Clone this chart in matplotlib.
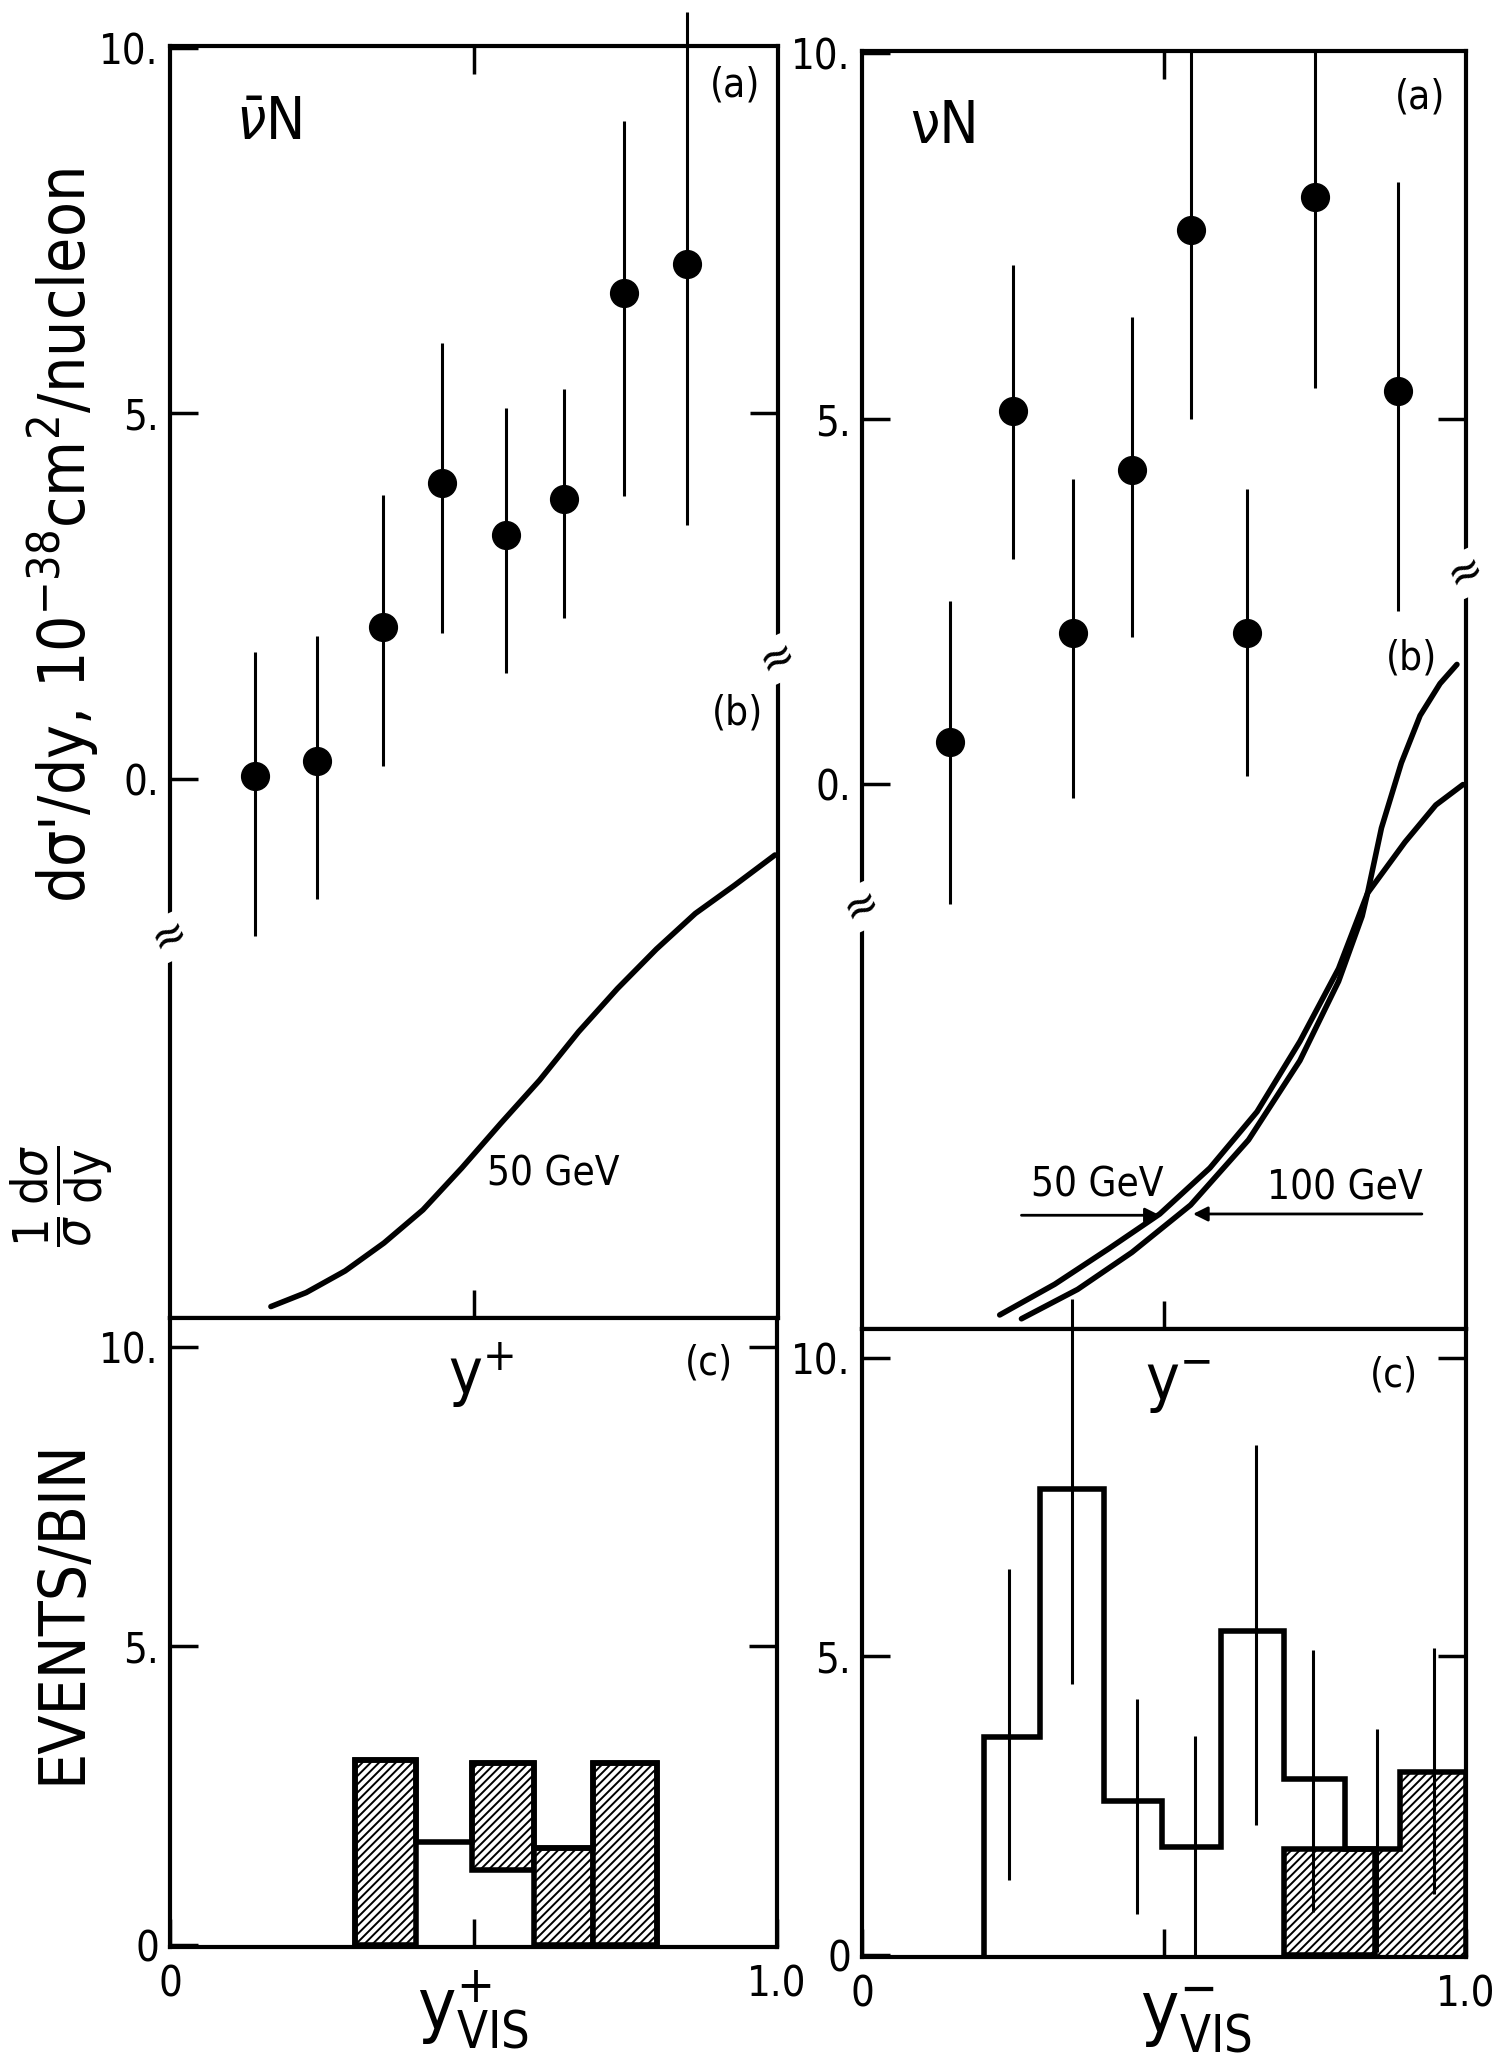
import numpy as np
import matplotlib
matplotlib.use("Agg")
import matplotlib.pyplot as plt
from matplotlib.transforms import blended_transform_factory as btf

plt.rcParams['font.family'] = ['DejaVu Sans']
plt.rcParams['font.stretch'] = 'condensed'
plt.rcParams['mathtext.fontset'] = 'dejavusans'
plt.rcParams['hatch.linewidth'] = 1.4

# ---------------- data ----------------
# (a) antineutrino, dsigma'/dy vs y+
anu_y = [0.14, 0.241, 0.351, 0.448, 0.552, 0.648, 0.747, 0.851]
anu_val = [0.04, 0.25, 2.08, 4.05, 3.34, 3.83, 6.65, 7.05]
anu_lo = [-2.15, -1.65, 0.17, 2.0, 1.45, 2.2, 3.87, 3.48]
anu_hi = [1.73, 1.96, 3.88, 5.97, 5.08, 5.33, 9.0, 10.49]

# (a) neutrino, dsigma'/dy vs y-
nu_y = [0.145, 0.25, 0.35, 0.447, 0.545, 0.637, 0.75, 0.888]
nu_val = [0.57, 5.1, 2.07, 4.3, 7.58, 2.07, 8.03, 5.38]
nu_lo = [-1.64, 3.08, -0.19, 2.01, 5.0, 0.11, 5.42, 2.36]
nu_hi = [2.5, 7.1, 4.17, 6.39, 10.03, 4.03, 10.03, 8.24]

# (b) 1/sigma dsigma/dy (arbitrary units, fraction of frame height)
anu50_x = [0.166, 0.224, 0.288, 0.352, 0.416, 0.480, 0.544, 0.608, 0.672, 0.736, 0.800, 0.864, 0.928, 0.995]
anu50_f = [0.009, 0.020, 0.037, 0.059, 0.085, 0.118, 0.153, 0.187, 0.225, 0.259, 0.290, 0.318, 0.340, 0.364]
nu50_x = [0.228, 0.319, 0.409, 0.493, 0.576, 0.654, 0.725, 0.789, 0.837, 0.899, 0.950, 0.995]
nu50_f = [0.011, 0.035, 0.063, 0.090, 0.126, 0.170, 0.225, 0.282, 0.341, 0.381, 0.410, 0.426]
nu100_x = [0.264, 0.357, 0.447, 0.544, 0.640, 0.725, 0.789, 0.828, 0.837, 0.860, 0.893, 0.924, 0.957, 0.985]
nu100_f = [0.008, 0.031, 0.060, 0.097, 0.148, 0.210, 0.272, 0.323, 0.341, 0.392, 0.443, 0.480, 0.505, 0.520]

# (c) events/bin vs y_vis
c_anu_edges = [0.304, 0.406, 0.498, 0.599, 0.697, 0.802]
c_anu_total = [3.09, 1.73, 3.05, 1.63, 3.05]
hatch_anu_left = [0.304, 0.498, 0.599, 0.697]
hatch_anu_right = [0.406, 0.599, 0.697, 0.802]
hatch_anu_bottom = [0.0, 1.25, 0.0, 0.0]
hatch_anu_top = [3.09, 3.05, 1.63, 3.05]

c_nu_edges = [0.202, 0.295, 0.401, 0.497, 0.595, 0.698, 0.80, 0.89, 1.0]
c_nu_total = [3.65, 7.81, 2.57, 1.80, 5.43, 2.94, 1.77, 3.06]
c_nu_err_x = [0.243, 0.347, 0.455, 0.551, 0.653, 0.746, 0.852, 0.947]
c_nu_err_lo = [1.25, 4.53, 0.68, 0.0, 2.18, 0.71, 0.04, 1.02]
c_nu_err_hi = [6.47, 11.0, 4.29, 3.67, 8.55, 5.1, 3.78, 5.14]
hatch_nu_edges = [0.698, 0.85, 0.89, 1.0]
hatch_nu_vals = [1.77, 1.77, 3.06]

# ---------------- figure ----------------
W, H = 1503, 2063
fig = plt.figure(figsize=(W / 100, H / 100), dpi=100)


def box(x0, x1, y0, y1):
    return [x0 / W, 1 - y1 / H, (x1 - x0) / W, (y1 - y0) / H]


ax_tl = fig.add_axes(box(170, 778, 46, 1318))
ax_tr = fig.add_axes(box(862, 1466, 51, 1329))
ax_bl = fig.add_axes(box(170, 777, 1318, 1947))
ax_br = fig.add_axes(box(862, 1466, 1329, 1957))

LW_FRAME = 3.0
TFS = 30
TK = dict(direction='in', length=20, width=2.5, labelsize=TFS)


def style_common(ax):
    for s in ax.spines.values():
        s.set_linewidth(LW_FRAME)
    ax.set_xlim(0, 1)


def right_ticks(ax, ticks):
    sec = ax.secondary_yaxis('right')
    sec.set_yticks(ticks, labels=[''] * len(ticks))
    sec.tick_params(**TK)
    sec.spines['right'].set_visible(False)


def style_top(ax, ylim):
    style_common(ax)
    ax.set_ylim(*ylim)
    ax.set_yticks([0, 5, 10], labels=['0.', '5.', '10.'])
    ax.set_xticks([0.5], labels=[''])
    ax.tick_params(axis='y', left=True, right=False, pad=8, **TK)
    ax.tick_params(axis='x', bottom=True, top=True, labelbottom=False, **TK)
    right_ticks(ax, [5])


def style_bottom(ax, ylim):
    style_common(ax)
    ax.set_ylim(*ylim)
    ax.set_yticks([0, 5, 10], labels=['0', '5.', '10.'])
    ax.set_xticks([0, 0.5, 1.0], labels=['0', '', '1.0'])
    ax.tick_params(axis='y', left=True, right=False, pad=8, **TK)
    ax.tick_params(axis='x', bottom=True, top=False, pad=12, **TK)
    right_ticks(ax, [5, 10])


style_top(ax_tl, (-7.38, 10.03))
style_top(ax_tr, (-7.46, 10.03))
style_bottom(ax_bl, (-0.03, 10.48))
style_bottom(ax_br, (-0.04, 10.49))

# ---- (a) points ----
for ax, xs, ys, lo, hi in [(ax_tl, anu_y, anu_val, anu_lo, anu_hi),
                           (ax_tr, nu_y, nu_val, nu_lo, nu_hi)]:
    ax.vlines(xs, lo, hi, colors='k', lw=2.2, clip_on=False, zorder=3)
    ax.plot(xs, ys, 'o', color='k', ms=20, zorder=4)

# ---- (b) curves on overlay axes ----
def overlay(ax):
    ob = fig.add_axes(ax.get_position(), sharex=ax)
    ob.set_ylim(0, 1)
    ob.axis('off')
    ob.patch.set_visible(False)
    return ob


ob_l = overlay(ax_tl)
ob_r = overlay(ax_tr)
ob_l.set_xlim(0, 1)
ob_r.set_xlim(0, 1)
CK = dict(color='k', lw=4, solid_capstyle='round', solid_joinstyle='round')
ob_l.plot(anu50_x, anu50_f, **CK)
ob_r.plot(nu50_x, nu50_f, **CK)
ob_r.plot(nu100_x, nu100_f, **CK)

ob_l.text(0.630, 0.113, '50 GeV', fontsize=29, ha='center', va='center')
ob_r.text(0.389, 0.112, '50 GeV', fontsize=29, ha='center', va='center')
ob_r.text(0.80, 0.110, '100 GeV', fontsize=29, ha='center', va='center')
arw = dict(arrowstyle='-|>', color='k', lw=2, mutation_scale=22, shrinkA=0, shrinkB=0)
ob_r.annotate('', xy=(0.493, 0.089), xytext=(0.264, 0.089), arrowprops=arw)
ob_r.annotate('', xy=(0.548, 0.090), xytext=(0.927, 0.090), arrowprops=arw)

# ---- labels inside top panels ----
ax_tl.text(0.163, 8.97, r'$\bar{\nu}$N', fontsize=42, ha='center', va='center')
ax_tr.text(0.137, 9.0, 'νN', fontsize=42, ha='center', va='center')
ax_tl.text(0.929, 9.49, '(a)', fontsize=29, ha='center', va='center')
ax_tr.text(0.924, 9.40, '(a)', fontsize=29, ha='center', va='center')
ax_tl.text(0.934, 0.89, '(b)', fontsize=29, ha='center', va='center')
ax_tr.text(0.91, 1.72, '(b)', fontsize=29, ha='center', va='center')

# ---- axis breaks ----
def brk(ax, xa, yv):
    ax.text(xa, yv, '≈', transform=btf(ax.transAxes, ax.transData), fontsize=34,
            ha='center', va='center', rotation=25, zorder=10, clip_on=False,
            bbox=dict(fc='white', ec='none', pad=0.0))


brk(ax_tl, 0.0, -2.17)
brk(ax_tl, 1.0, 1.64)
brk(ax_tr, 0.0, -1.68)
brk(ax_tr, 1.0, 2.88)

# ---- (c) histograms ----
HLW = 4
HATCH = '////'
for l, r, b, t in zip(hatch_anu_left, hatch_anu_right, hatch_anu_bottom, hatch_anu_top):
    ax_bl.bar(l, t - b, width=r - l, bottom=b, align='edge', facecolor='white',
              edgecolor='k', lw=HLW, hatch=HATCH, zorder=2)
ax_bl.stairs(c_anu_total, c_anu_edges, color='k', lw=HLW, baseline=0, zorder=3)

ax_br.stairs(hatch_nu_vals, hatch_nu_edges, fill=True, facecolor='white',
             edgecolor='k', lw=0, hatch=HATCH, zorder=2)
ax_br.bar(hatch_nu_edges[0], hatch_nu_vals[0], width=hatch_nu_edges[1] - hatch_nu_edges[0],
          align='edge', facecolor='none', edgecolor='k', lw=HLW, zorder=3)
ax_br.stairs(c_nu_total, c_nu_edges, color='k', lw=HLW, baseline=0, zorder=3)
ax_br.vlines(c_nu_err_x, c_nu_err_lo, c_nu_err_hi, colors='k', lw=2.2,
             clip_on=False, zorder=5)

ax_bl.text(0.513, 9.53, r'$\mathrm{y}^{+}$', fontsize=46, ha='center', va='center')
ax_br.text(0.523, 9.55, r'$\mathrm{y}^{-}$', fontsize=46, ha='center', va='center')
ax_bl.text(0.888, 9.72, '(c)', fontsize=29, ha='center', va='center')
ax_br.text(0.881, 9.71, '(c)', fontsize=29, ha='center', va='center')

# ---- figure-level axis labels ----
fig.text(63 / W, 1 - 536 / H, "dσ'/dy, 10$^{-38}$cm$^{2}$/nucleon", rotation=90,
         fontsize=46, ha='center', va='center')
fig.text(62 / W, 1 - 1196 / H, r'$\dfrac{1}{\sigma}\,\dfrac{\mathrm{d}\sigma}{\mathrm{dy}}$',
         rotation=90, fontsize=36, ha='center', va='center')
fig.text(62 / W, 1 - 1612 / H, 'EVENTS/BIN', rotation=90, fontsize=46,
         ha='center', va='center')
fig.text(473 / W, 1 - 2010 / H, r'$\mathrm{y}^{+}_{\mathrm{VIS}}$', fontsize=52,
         ha='center', va='center')
fig.text(1196 / W, 1 - 2020 / H, r'$\mathrm{y}^{-}_{\mathrm{VIS}}$', fontsize=52,
         ha='center', va='center')

fig.savefig('out.png', dpi=100)
